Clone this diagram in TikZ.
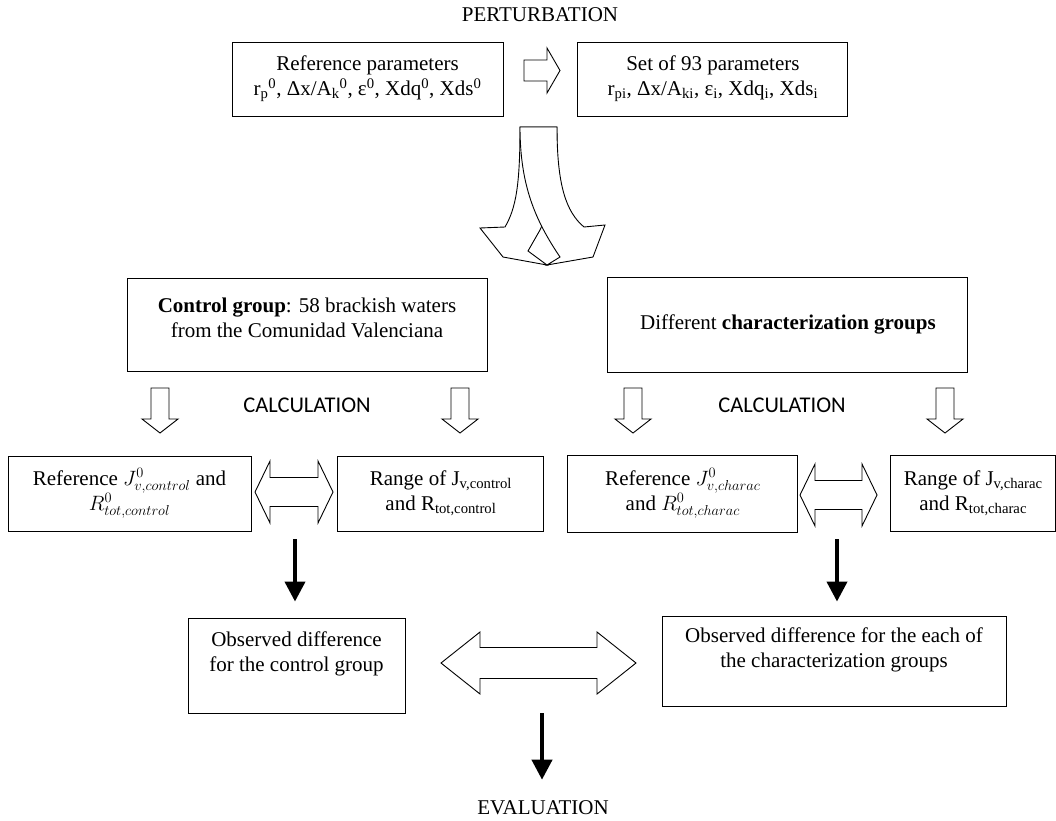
\documentclass[tikz,border=0pt]{standalone}
\usepackage{fontspec}
\setmainfont{Liberation Serif}
\newfontfamily\calcfont{Carlito}
\usepackage{tikz}
\usetikzlibrary{positioning}
\usetikzlibrary{arrows.meta}
\tikzstyle{box}=[draw, rectangle, align=center, inner sep=0pt, line width=0.9pt]
\tikzstyle{blockarrow}=[draw, fill=white, line width=0.9pt, line join=miter]
\tikzstyle{heavyarrow}=[line width=4pt, -{Triangle[width=20pt, length=20pt]}]
\tikzstyle{caption}=[inner sep=0pt]
\begin{document}
\begin{tikzpicture}[x=1pt, y=-1pt, font=\fontsize{21}{25}\selectfont]

	\path[use as bounding box, fill=white] (0,0) rectangle (1056,820);

	% perturbation
	\node (pert) [caption] at (540,15) {PERTURBATION};
	\node (refp) [box, minimum width=271pt, minimum height=74pt] at (367.5,79) {Reference parameters\\r\textsubscript{p}\textsuperscript{0}, Δx/A\textsubscript{k}\textsuperscript{0}, ε\textsuperscript{0}, Xdq\textsuperscript{0}, Xds\textsuperscript{0}};
	\node (setp) [box, minimum width=270pt, minimum height=74pt, right=74pt of refp] {Set of 93 parameters\\r\textsubscript{pi}, Δx/A\textsubscript{ki}, ε\textsubscript{i}, Xdq\textsubscript{i}, Xds\textsubscript{i}};
	\draw[blockarrow] (524,60) -- (547,60) -- (547,48) -- (560,70.5) -- (547,93) -- (547,81) -- (524,81) -- cycle;

	% split arrow
	\draw[blockarrow] (520,127) .. controls (520,185) and (516,208) .. (505,227) -- (480,228) -- (503,257) -- (547,265) -- (528,251) -- (540,230) .. controls (552,205) and (557,170) .. (557,127) -- cycle;
	\draw[blockarrow] (520,127) -- (557,127) .. controls (557,185) and (566,212) .. (584,227) -- (605,225) -- (593,257) -- (547,265) -- (560,257) .. controls (535,220) and (520,185) .. (520,127) -- cycle;

	% groups
	\node (ctrl) [box, minimum width=360pt, minimum height=93pt, text depth=14pt] at (307,324.5) {\textbf{Control group}: 58 brackish waters\\from the Comunidad Valenciana};
	\node (chargr) [box, minimum width=360pt, minimum height=95pt, right=120pt of ctrl] {Different \textbf{characterization groups}};

	% calculation
	\node (calc1) [caption, font=\calcfont\fontsize{22.5}{26}\selectfont] at (307,405) {CALCULATION};
	\node (calc2) [caption, font=\calcfont\fontsize{22.5}{26}\selectfont] at (782,405) {CALCULATION};
	\draw[blockarrow] (151,388) -- (169,388) -- (169,419) -- (178,419) -- (160,433) -- (142,419) -- (151,419) -- cycle;
	\draw[blockarrow] (451,388) -- (469,388) -- (469,419) -- (478,419) -- (460,433) -- (442,419) -- (451,419) -- cycle;
	\draw[blockarrow] (624,388) -- (642,388) -- (642,419) -- (651,419) -- (633,433) -- (615,419) -- (624,419) -- cycle;
	\draw[blockarrow] (936,388) -- (954,388) -- (954,419) -- (963,419) -- (945,433) -- (927,419) -- (936,419) -- cycle;

	% reference and range
	\node (refc) [box, minimum width=243pt, minimum height=75pt] at (129.5,493.5) {Reference $J^0_{v,control}$ and\\$R^0_{tot,control}$};
	\node (rangec) [box, minimum width=206pt, minimum height=75pt, right=86pt of refc] {Range of J\textsubscript{v,control}\\and R\textsubscript{tot,control}};
	\node (refch) [box, minimum width=230pt, minimum height=77pt, right=23pt of rangec] {Reference $J^0_{v,charac}$\\and $R^0_{tot,charac}$};
	\node (rangech) [box, minimum width=165pt, minimum height=76pt, right=92pt of refch] {Range of J\textsubscript{v,charac}\\and R\textsubscript{tot,charac}};
	\draw[blockarrow] (255,492) -- (270,461) -- (270,477.5) -- (318,477.5) -- (318,461) -- (333,492) -- (318,523) -- (318,506.5) -- (270,506.5) -- (270,523) -- cycle;
	\draw[blockarrow] (800,495) -- (815,464) -- (815,480.5) -- (862,480.5) -- (862,464) -- (877,495) -- (862,526) -- (862,509.5) -- (815,509.5) -- (815,526) -- cycle;

	% observed difference
	\node (obsc) [box, minimum width=217pt, minimum height=95pt, text depth=28pt] at (296.5,665.5) {Observed difference\\for the control group};
	\node (obsch) [box, minimum width=344pt, minimum height=90pt, text depth=26pt] at (834,661) {Observed difference for the each of\\the characterization groups};
	\draw[blockarrow] (441,663) -- (480,632) -- (480,647.5) -- (597,647.5) -- (597,632) -- (636,663) -- (597,694) -- (597,678.5) -- (480,678.5) -- (480,694) -- cycle;

	\coordinate (down1) at (295,539);
	\coordinate (down2) at (837,539);
	\coordinate (down3) at (542,713);
	\node (eval) [caption] at (543,808) {EVALUATION};

	\draw[heavyarrow, shorten >=16pt] (down1) -- (down1 |- obsc.north);
	\draw[heavyarrow, shorten >=14pt] (down2) -- (down2 |- obsch.north);
	\draw[heavyarrow, shorten >=21pt] (down3) -- (down3 |- eval.north);
\end{tikzpicture}
\end{document}
